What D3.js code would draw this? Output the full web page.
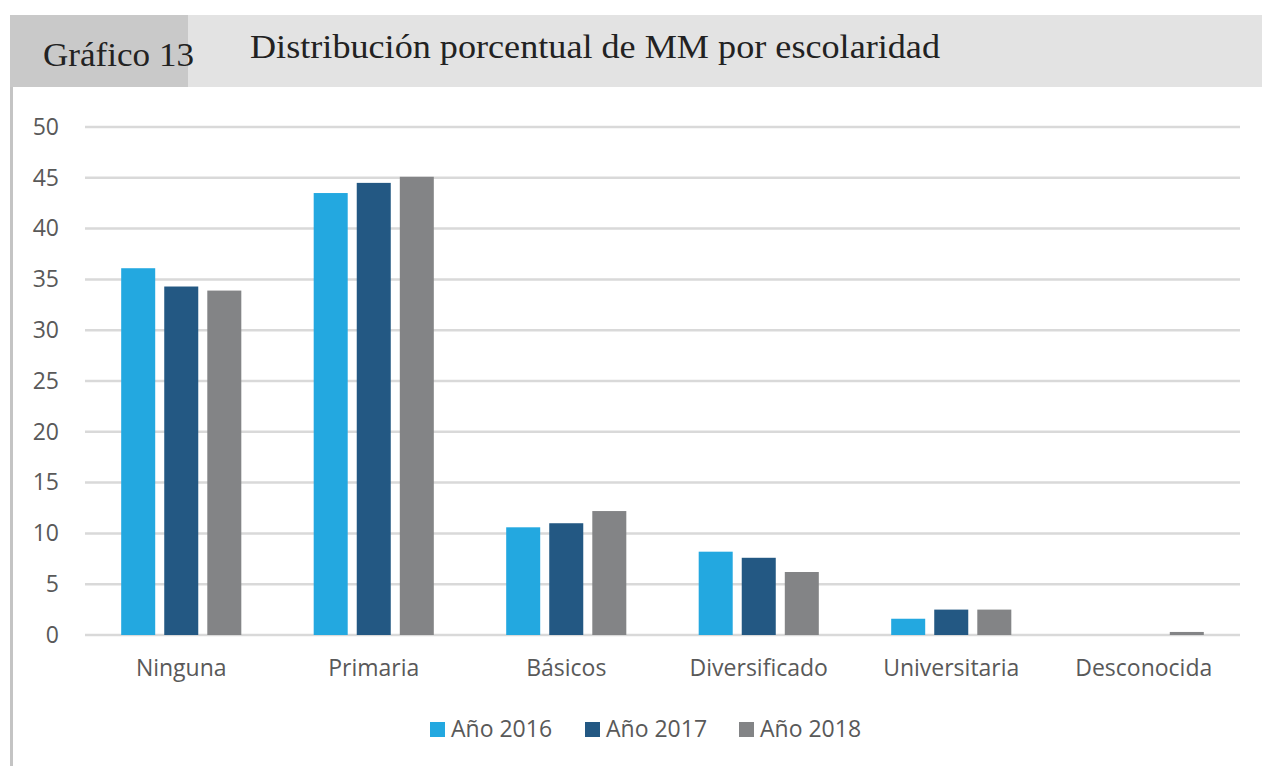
<!DOCTYPE html>
<html>
<head>
<meta charset="utf-8">
<script src="https://cdn.jsdelivr.net/npm/d3@7"></script>
<style>
  body { margin: 0; background: #fff; }
  svg { display: block; }
</style>
</head>
<body>
<svg id="chart" width="1262" height="766"></svg>
<script>
// data
const categories = ["Ninguna", "Primaria", "Básicos", "Diversificado", "Universitaria", "Desconocida"];
const seriesNames = ["Año 2016", "Año 2017", "Año 2018"];
const values2016 = [36.1, 43.5, 10.6, 8.2, 1.6, 0];
const values2017 = [34.3, 44.5, 11.0, 7.6, 2.5, 0];
const values2018 = [33.9, 45.1, 12.2, 6.2, 2.5, 0.3];
const seriesColors = ["#23a8e0", "#235883", "#838486"];
const yTicks = [0, 5, 10, 15, 20, 25, 30, 35, 40, 45, 50];

const sansFont = "'Open Sans', sans-serif";
const serifFont = "'Liberation Serif', serif";

const svg = d3.select("#chart");

// header band
svg.append("rect").attr("x", 10).attr("y", 15).attr("width", 1252).attr("height", 72).attr("fill", "#e3e3e3");
svg.append("rect").attr("x", 10).attr("y", 15).attr("width", 178).attr("height", 72).attr("fill", "#c9c9c9");
svg.append("text").attr("x", 43).attr("y", 66)
  .attr("font-family", serifFont).attr("font-size", 34).attr("fill", "#222")
  .attr("textLength", 151).attr("lengthAdjust", "spacingAndGlyphs")
  .text("Gráfico 13");
svg.append("text").attr("x", 250).attr("y", 58)
  .attr("font-family", serifFont).attr("font-size", 34).attr("fill", "#222")
  .attr("textLength", 690).attr("lengthAdjust", "spacingAndGlyphs")
  .text("Distribución porcentual de MM por escolaridad");

// left border of the box
svg.append("rect").attr("x", 10).attr("y", 87).attr("width", 3).attr("height", 679).attr("fill", "#c4c4c4");

const plotLeft = 85, plotRight = 1240, plotTop = 127, plotBottom = 635;

const y = d3.scaleLinear().domain([0, 50]).range([plotBottom, plotTop]);
const x0 = d3.scaleBand().domain(categories).range([plotLeft, plotRight]).paddingInner(0.376).paddingOuter(0.188);
const x1 = d3.scaleBand().domain(seriesNames).range([0, x0.bandwidth()]).paddingInner(0.21);

// gridlines
svg.append("g").selectAll("line").data(yTicks).enter().append("line")
  .attr("x1", plotLeft).attr("x2", plotRight)
  .attr("y1", d => y(d)).attr("y2", d => y(d))
  .attr("stroke", "#d9d9d9").attr("stroke-width", 2.5);

// y axis labels
const yAxis = d3.axisLeft(y).tickValues(yTicks).tickSize(0).tickPadding(0);
const gy = svg.append("g").attr("transform", "translate(59,0)").call(yAxis);
gy.select(".domain").remove();
gy.selectAll("text").attr("font-family", sansFont).attr("font-size", 23).attr("fill", "#595959");

// bars
const allSeries = [values2016, values2017, values2018];
const rows = categories.map((c, i) => ({ cat: c, vals: seriesNames.map((s, j) => ({ s: s, v: allSeries[j][i], color: seriesColors[j] })) }));

const groups = svg.append("g").selectAll("g").data(rows).enter().append("g")
  .attr("transform", d => "translate(" + x0(d.cat) + ",0)");
groups.selectAll("rect").data(d => d.vals).enter().append("rect")
  .attr("x", d => x1(d.s))
  .attr("width", x1.bandwidth())
  .attr("y", d => y(d.v))
  .attr("height", d => y(0) - y(d.v))
  .attr("fill", d => d.color);

// category labels
const xAxis = d3.axisBottom(x0).tickSize(0).tickPadding(0);
const gx = svg.append("g").attr("transform", "translate(0,660)").call(xAxis);
gx.select(".domain").remove();
gx.selectAll("text").attr("font-family", sansFont).attr("font-size", 23).attr("fill", "#595959");

// legend
const legendX = [430, 585, 739];
const legend = svg.append("g").selectAll("g").data(seriesNames).enter().append("g")
  .attr("transform", (d, i) => "translate(" + legendX[i] + ",722)");
legend.append("rect").attr("width", 15).attr("height", 15).attr("fill", (d, i) => seriesColors[i]);
legend.append("text").attr("x", 21).attr("y", 15)
  .attr("font-family", sansFont).attr("font-size", 23).attr("fill", "#595959")
  .text(d => d);
</script>
</body>
</html>
